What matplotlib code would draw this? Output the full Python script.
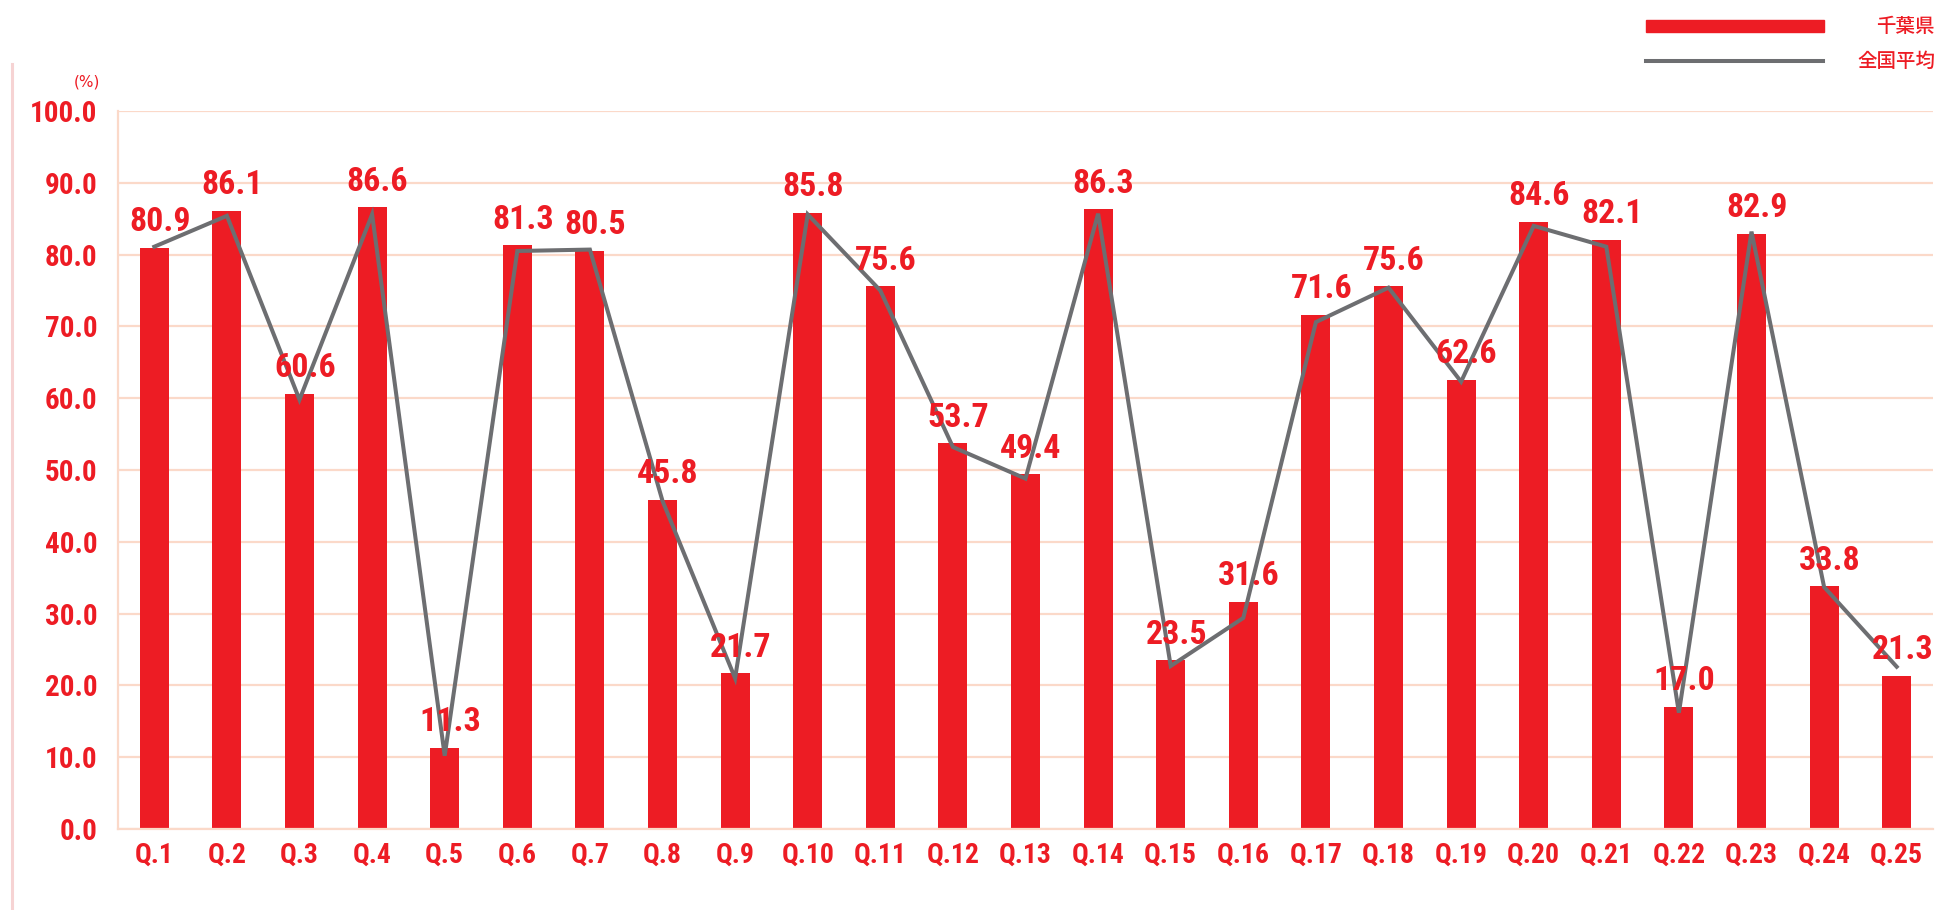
import numpy as np
import matplotlib
matplotlib.use("Agg")
import matplotlib.pyplot as plt
import matplotlib.font_manager as fm
from matplotlib.lines import Line2D
from matplotlib.patches import Rectangle

# ---------------- data ----------------
categories = [f"Q.{i}" for i in range(1, 26)]
chiba = [80.9, 86.1, 60.6, 86.6, 11.3, 81.3, 80.5, 45.8, 21.7, 85.8,
         75.6, 53.7, 49.4, 86.3, 23.5, 31.6, 71.6, 75.6, 62.6, 84.6,
         82.1, 17.0, 82.9, 33.8, 21.3]
national = [81.1, 85.4, 59.8, 85.6, 10.2, 80.5, 80.7, 45.7, 21.0, 85.6,
            75.0, 53.2, 48.8, 85.7, 22.7, 29.4, 70.6, 75.4, 62.3, 84.0,
            81.1, 16.2, 83.2, 33.7, 22.6]
yticks = [0, 10, 20, 30, 40, 50, 60, 70, 80, 90, 100]
legend_labels = ["千葉県", "全国平均"]
unit_label = "(%)"

RED = "#ED1C24"
GRAY = "#6D6E71"
GRID = "#FBD9C9"
PINK = "#F6D3D3"


def pick_font():
    for fam in ["Liberation Sans Narrow", "Roboto Condensed", "Open Sans Condensed"]:
        try:
            fm.findfont(fm.FontProperties(family=fam, weight="bold"),
                        fallback_to_default=False)
            return dict(family=fam, stretch="normal"), 1.0
        except Exception:
            pass
    p = fm.findfont(fm.FontProperties(family="DejaVu Sans", stretch="condensed",
                                      weight="bold"))
    if "Condensed" in p:
        return dict(family="DejaVu Sans", stretch="condensed"), 0.8
    return dict(family="DejaVu Sans", stretch="normal"), 0.72


NUMFONT, scale = pick_font()

W, H = 1939, 910
fig = plt.figure(figsize=(W / 100, H / 100), dpi=100)
ax_l, ax_r, ax_b, ax_t = 118, 1933, 829, 111
ax = fig.add_axes([ax_l / W, (H - ax_b) / H, (ax_r - ax_l) / W, (ax_b - ax_t) / H])

x = np.arange(len(categories))
ax.bar(x, chiba, width=0.4, color=RED, zorder=2)
ax.plot(x, national, color=GRAY, lw=2.9, zorder=3, solid_joinstyle="miter")

for xi, v in zip(x, chiba):
    ax.annotate(f"{v:.1f}", (xi, v), xytext=(4, 12), textcoords="offset points",
                ha="center", va="baseline", color=RED, fontsize=24.5 * scale,
                fontweight="bold", zorder=4, **NUMFONT)

ax.set_xlim(-0.5, len(categories) - 0.5)
ax.set_ylim(0, 100)
ax.set_yticks(yticks)
ax.set_yticklabels([f"{t:.1f}" for t in yticks])
ax.set_xticks(x)
ax.set_xticklabels(categories)
ax.yaxis.grid(True, color=GRID, lw=1.6, zorder=0)
ax.set_axisbelow(True)
for s in ["top", "right"]:
    ax.spines[s].set_visible(False)
for s in ["left", "bottom"]:
    ax.spines[s].set_color(GRID)
    ax.spines[s].set_linewidth(1.6)
ax.tick_params(axis="both", length=0, colors=RED)
ax.tick_params(axis="y", pad=15)
ax.tick_params(axis="x", pad=9)
for lab in ax.get_yticklabels():
    lab.set_fontsize(21 * scale)
    lab.set_fontweight("bold")
    lab.set_family(NUMFONT["family"])
    lab.set_stretch(NUMFONT["stretch"])
for lab in ax.get_xticklabels():
    lab.set_fontsize(20 * scale)
    lab.set_fontweight("bold")
    lab.set_family(NUMFONT["family"])
    lab.set_stretch(NUMFONT["stretch"])

fig.text(87 / W, 1 - 82 / H, unit_label, ha="center", va="center",
         color=RED, fontsize=11, family="DejaVu Sans")

# left decorative pink rule
fig.add_artist(Line2D([12 / W, 12 / W], [0, 1 - 64 / H], color=PINK, lw=2.2,
                      transform=fig.transFigure))

# legend (manual)
fig.add_artist(Rectangle((1646 / W, 1 - 32 / H), (1824 - 1646) / W, 12 / H,
                         color=RED, transform=fig.transFigure))
fig.add_artist(Line2D([1646 / W, 1823 / W], [1 - 61 / H, 1 - 61 / H], color=GRAY,
                      lw=2.9, transform=fig.transFigure))
cjk = ["Noto Sans CJK JP", "DejaVu Sans"]
fig.text(1935 / W, 1 - 26 / H, legend_labels[0], ha="right", va="center",
         color=RED, fontsize=14, family=cjk, fontweight="medium")
fig.text(1935 / W, 1 - 61 / H, legend_labels[1], ha="right", va="center",
         color=RED, fontsize=14, family=cjk, fontweight="medium")

fig.savefig("out.png", dpi=100, facecolor="white")
